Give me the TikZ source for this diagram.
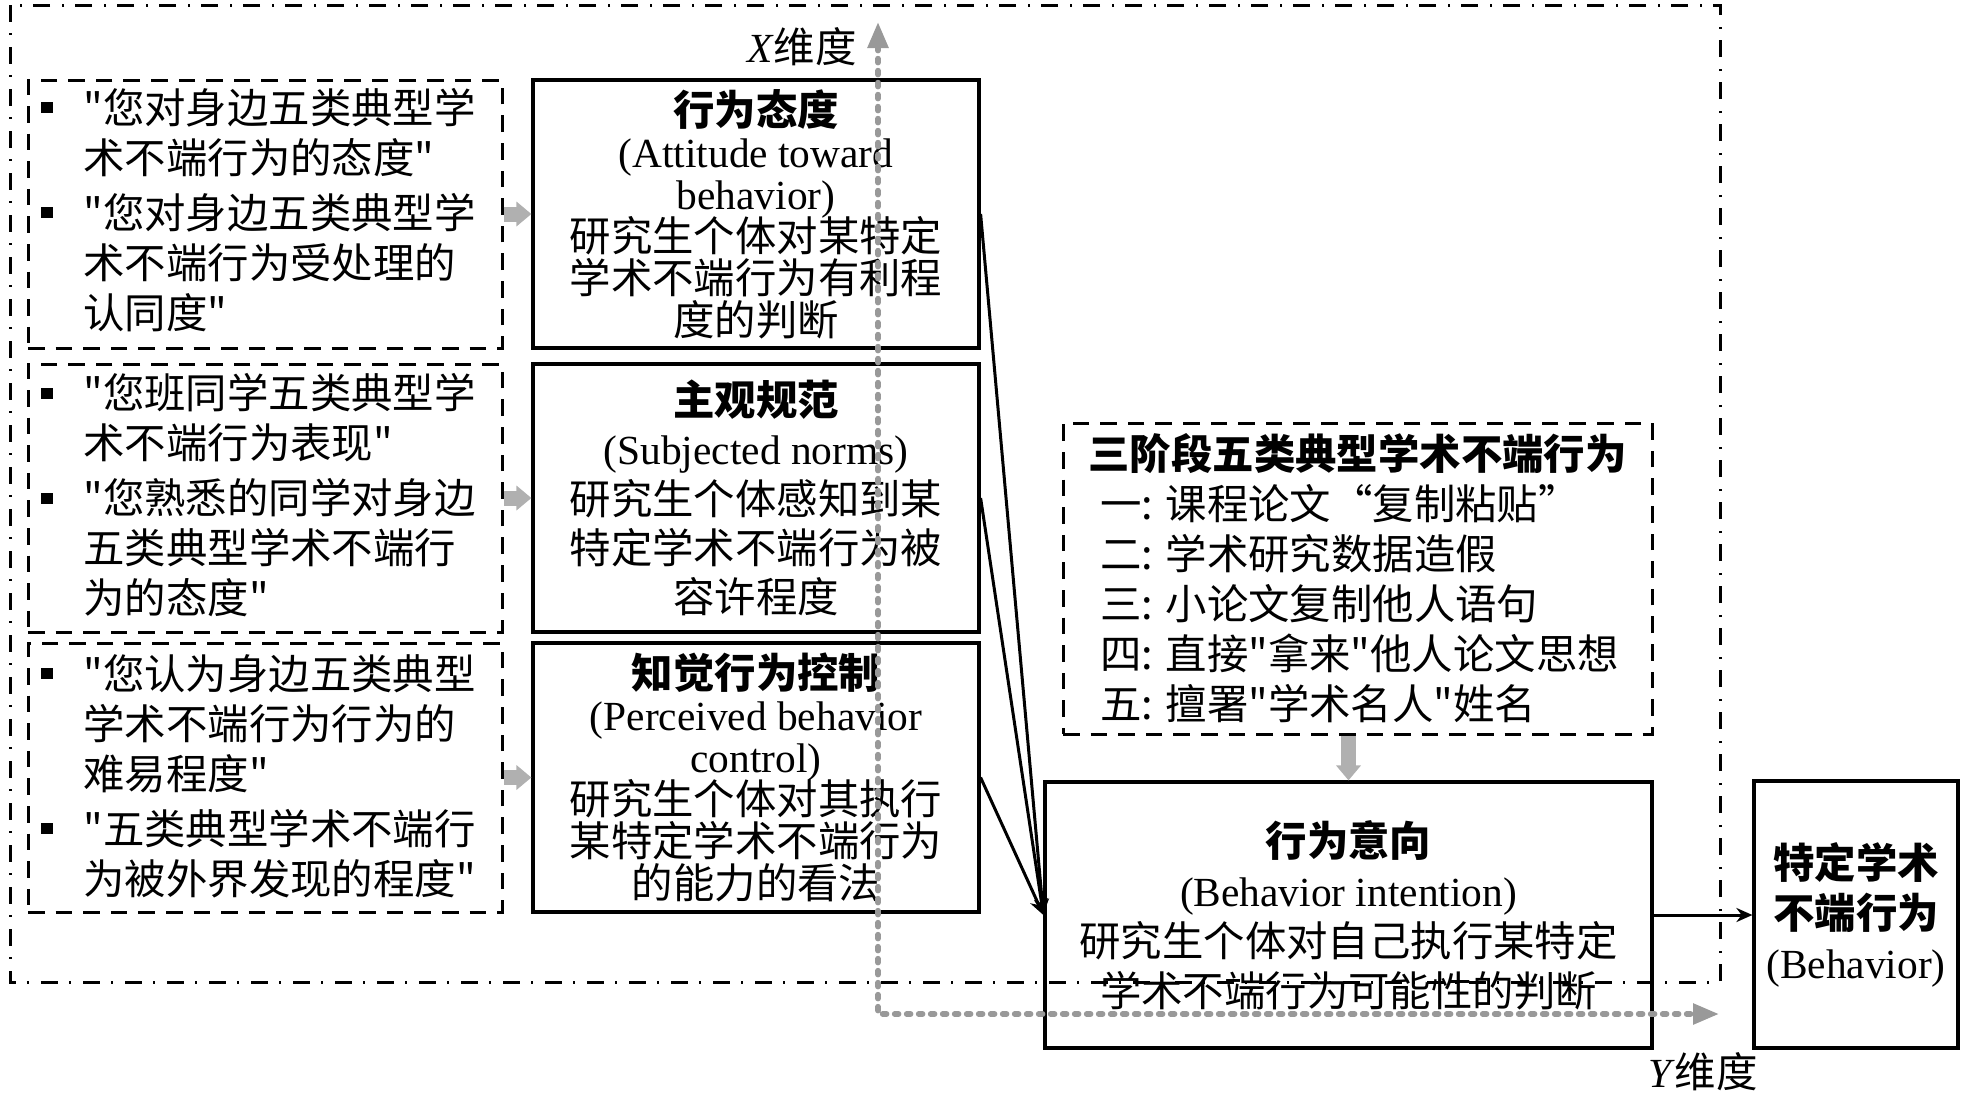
\documentclass[tikz,border=0pt]{standalone}
\usepackage{fontspec}
\setmainfont{Liberation Serif}
\newfontfamily\cjk{Noto Sans CJK SC}
\usetikzlibrary{arrows.meta}
\definecolor{dimgray}{HTML}{999999}
\definecolor{blockgray}{HTML}{B0B0B0}
\newcommand{\bul}{\llap{\rule[5pt]{6pt}{5.6pt}\hspace{15pt}}}
\tikzset{
  solidbox/.style={draw=black, line width=1.6pt, inner sep=0pt, align=center},
  dashbox/.style={draw=black, line width=1.5pt, dash pattern=on 8.3pt off 5.5pt, inner sep=0pt},
  outerbox/.style={draw=black, line width=1.5pt, dash pattern=on 8.5pt off 5.5pt on 1.2pt off 5.8pt},
  fa/.style={font=\cjk\fontsize{20.7pt}{21pt}\selectfont},
  fb/.style={font=\cjk\fontsize{20.7pt}{24.6pt}\selectfont},
  fc/.style={font=\cjk\fontsize{20.7pt}{25pt}\selectfont},
  ltext/.style={fc, anchor=west, align=left, inner sep=0pt},
  blockarrow/.style={draw=blockgray, line width=7.5pt, -{Triangle[length=7.5pt,width=12pt]}},
  conn/.style={draw=black, line width=1.5pt, -{Stealth[length=8pt,width=7pt]}},
  dimline/.style={draw=dimgray, line width=2.8pt, line cap=round, dash pattern=on 2pt off 4pt,
    arrows={Triangle[length=13pt,width=10pt]-Triangle[length=13pt,width=10pt]}},
  dimlabel/.style={font=\fontsize{20.7pt}{25pt}\selectfont, inner sep=0pt}
}
\begin{document}
\setlength{\lineskiplimit}{-100pt}
\begin{tikzpicture}[x=0.5pt, y=-0.5pt]
\useasboundingbox (0,0) rectangle (1968,1098);
% outer frame
\draw[outerbox] (10,5) rectangle (1720,982);

% left dashed boxes
\node[dashbox, minimum width=237pt, minimum height=134pt] (l1) at (265,214) {};
\node[dashbox, minimum width=237pt, minimum height=134pt] (l2) at (265,498) {};
\node[dashbox, minimum width=237pt, minimum height=134.5pt] (l3) at (265,777.5) {};

\node[ltext] (t1) at (83,210) {\bul"您对身边五类典型学\\术不端行为的态度"\\[2.5pt]\bul"您对身边五类典型学\\术不端行为受处理的\\认同度"};
\node[ltext] (t2) at (83,495.5) {\bul"您班同学五类典型学\\术不端行为表现"\\[2.5pt]\bul"您熟悉的同学对身边\\五类典型学术不端行\\为的态度"};
\node[ltext] (t3) at (83,776) {\bul"您认为身边五类典型\\学术不端行为行为的\\难易程度"\\[2.5pt]\bul"五类典型学术不端行\\为被外界发现的程度"};

% middle boxes
\node[solidbox, fa, minimum width=223pt, minimum height=134pt] (m1) at (756,214)
  {\textbf{行为态度}\\{\rmfamily (Attitude toward}\\{\rmfamily behavior)}\\研究生个体对某特定\\学术不端行为有利程\\度的判断};
\node[solidbox, fb, minimum width=223pt, minimum height=134pt] (m2) at (756,498)
  {\textbf{主观规范}\\{\rmfamily (Subjected norms)}\\研究生个体感知到某\\特定学术不端行为被\\容许程度};
\node[solidbox, fa, minimum width=223pt, minimum height=134.5pt] (m3) at (756,777.5)
  {\textbf{知觉行为控制}\\{\rmfamily (Perceived behavior}\\{\rmfamily control)}\\研究生个体对其执行\\某特定学术不端行为\\的能力的看法};

% five behaviours box
\node[dashbox, fc, align=left, minimum width=294.5pt, minimum height=155.5pt] (s) at (1357.5,578.5)
  {\textbf{三阶段五类典型学术不端行为}\\
   \hspace*{6pt}一: 课程论文“复制粘贴”\\
   \hspace*{6pt}二: 学术研究数据造假\\
   \hspace*{6pt}三: 小论文复制他人语句\\
   \hspace*{6pt}四: 直接"拿来"他人论文思想\\
   \hspace*{6pt}五: 擅署"学术名人"姓名};

% intention and behaviour
\node[solidbox, fc, minimum width=303.5pt, minimum height=133pt] (int) at (1348.5,915)
  {\textbf{行为意向}\\{\rmfamily (Behavior intention)}\\研究生个体对自己执行某特定\\学术不端行为可能性的判断};
\node[solidbox, fc, minimum width=102pt, minimum height=133.5pt] (beh) at (1856,914.5)
  {\textbf{特定学术}\\\textbf{不端行为}\\{\rmfamily (Behavior)}};

% gray block arrows
\draw[blockarrow] (l1.east) -- (m1.west);
\draw[blockarrow] (l2.east) -- (m2.west);
\draw[blockarrow] (l3.east) -- (m3.west);
\draw[blockarrow] (s.south -| int.north) -- (int.north);

% black connectors
\draw[conn] (m1.east) -- (int.west);
\draw[conn] (m2.east) -- (int.west);
\draw[conn] (m3.east) -- (int.west);
\draw[conn] (int.east) -- (int.east -| beh.west);

% dimension axes
\coordinate (xend) at (878,22);
\coordinate (corner) at (878,1014);
\coordinate (yend) at (1719,1014);
\draw[dimline] (xend) -- (corner) -- (yend);
\node[dimlabel, anchor=east] (xlab) at (857,47) {\textit{X}{\cjk 维度}};
\node[dimlabel] (ylab) at (1703,1072) {\textit{Y}{\cjk 维度}};
\end{tikzpicture}
\end{document}
